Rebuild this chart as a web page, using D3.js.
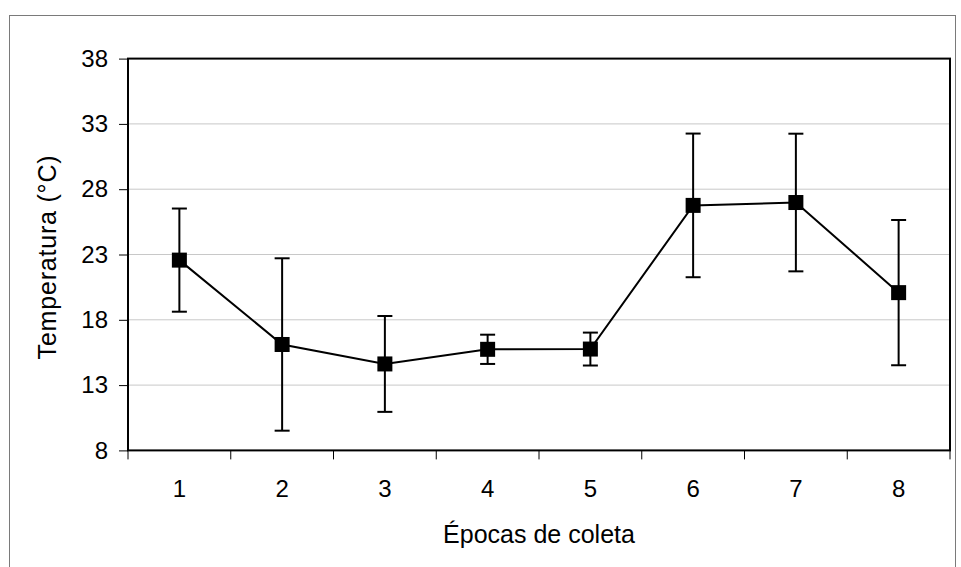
<!DOCTYPE html>
<html>
<head>
<meta charset="utf-8">
<script src="https://cdn.jsdelivr.net/npm/d3@7/dist/d3.min.js"></script>
<style>
  html, body { margin: 0; padding: 0; background: #fff; }
  svg { display: block; }
  svg text { font-family: "Liberation Sans", Arial, sans-serif; }
</style>
</head>
<body>
<svg id="chart" width="961" height="567"></svg>
<script>
// Sampling periods and mean temperature with standard deviation
const categories = ["1", "2", "3", "4", "5", "6", "7", "8"];
const meanTemp = [22.57, 16.11, 14.62, 15.74, 15.76, 26.76, 26.98, 20.08];
const stdDev = [3.95, 6.6, 3.67, 1.12, 1.26, 5.5, 5.27, 5.56];
const yTicks = [8, 13, 18, 23, 28, 33, 38];
const xTitle = "Épocas de coleta";
const yTitle = "Temperatura (°C)";

const FONT = "'Liberation Sans', Arial, sans-serif";
const svg = d3.select("#chart");
const plot = { left: 128, right: 950, top: 58.6, bottom: 450.4 };

// Outer chart frame
svg.append("rect")
  .attr("x", 9.5).attr("y", 15.5)
  .attr("width", 946).attr("height", 600)
  .attr("fill", "none").attr("stroke", "#7a7a7a").attr("stroke-width", 1);

const x = d3.scaleBand().domain(categories).range([plot.left, plot.right]).padding(0);
const y = d3.scaleLinear().domain([8, 38]).range([plot.bottom, plot.top]);

// Horizontal gridlines
svg.append("g").selectAll("line")
  .data(yTicks.filter(t => t > 8 && t < 38))
  .join("line")
  .attr("x1", plot.left).attr("x2", plot.right)
  .attr("y1", d => y(d)).attr("y2", d => y(d))
  .attr("stroke", "#c8c8c8").attr("stroke-width", 1);

// Y axis
const yAxis = svg.append("g")
  .attr("transform", `translate(${plot.left},0)`)
  .call(d3.axisLeft(y).tickValues(yTicks).tickSize(9).tickPadding(11).tickFormat(d3.format("d")));
yAxis.attr("font-family", FONT);
yAxis.select(".domain").remove();
yAxis.selectAll("line").attr("stroke", "#000");
yAxis.selectAll("text").attr("font-size", 24).attr("fill", "#000");

// X axis: ticks at category boundaries, labels at centres
const xAxis = svg.append("g").attr("transform", `translate(0,${plot.bottom})`);
const bounds = categories.map(c => x(c)).concat([plot.right]);
xAxis.selectAll("line")
  .data(bounds)
  .join("line")
  .attr("x1", d => d).attr("x2", d => d)
  .attr("y1", 0).attr("y2", 9)
  .attr("stroke", "#000").attr("stroke-width", 1);
xAxis.selectAll("text")
  .data(categories)
  .join("text")
  .attr("x", d => x(d) + x.bandwidth() / 2)
  .attr("y", 47)
  .attr("text-anchor", "middle")
  .attr("font-family", FONT)
  .attr("font-size", 24)
  .attr("fill", "#000")
  .text(d => d);

// Plot area border
svg.append("rect")
  .attr("x", plot.left).attr("y", plot.top)
  .attr("width", plot.right - plot.left).attr("height", plot.bottom - plot.top)
  .attr("fill", "none").attr("stroke", "#000").attr("stroke-width", 2);

const data = categories.map((c, i) => ({ c, m: meanTemp[i], s: stdDev[i] }));
const cx = d => x(d.c) + x.bandwidth() / 2;

// Error bars
const eb = svg.append("g").attr("stroke", "#000").attr("stroke-width", 2);
eb.selectAll(".stem").data(data).join("line")
  .attr("x1", cx).attr("x2", cx)
  .attr("y1", d => y(d.m + d.s)).attr("y2", d => y(d.m - d.s));
eb.selectAll(".capTop").data(data).join("line")
  .attr("x1", d => cx(d) - 7.5).attr("x2", d => cx(d) + 7.5)
  .attr("y1", d => y(d.m + d.s)).attr("y2", d => y(d.m + d.s));
eb.selectAll(".capBot").data(data).join("line")
  .attr("x1", d => cx(d) - 7.5).attr("x2", d => cx(d) + 7.5)
  .attr("y1", d => y(d.m - d.s)).attr("y2", d => y(d.m - d.s));

// Connecting line
svg.append("path")
  .datum(data)
  .attr("fill", "none").attr("stroke", "#000").attr("stroke-width", 2)
  .attr("d", d3.line().x(cx).y(d => y(d.m)));

// Square markers
const ms = 15;
svg.append("g").selectAll("rect").data(data).join("rect")
  .attr("x", d => cx(d) - ms / 2).attr("y", d => y(d.m) - ms / 2)
  .attr("width", ms).attr("height", ms)
  .attr("fill", "#000");

// Axis titles
svg.append("text")
  .attr("x", (plot.left + plot.right) / 2).attr("y", 543)
  .attr("text-anchor", "middle").attr("font-family", FONT)
  .attr("font-size", 25).attr("fill", "#000")
  .text(xTitle);

svg.append("text")
  .attr("transform", "translate(56,257) rotate(-90)")
  .attr("text-anchor", "middle").attr("font-family", FONT)
  .attr("font-size", 25).attr("letter-spacing", 0.8)
  .attr("fill", "#000")
  .text(yTitle);
</script>
</body>
</html>
